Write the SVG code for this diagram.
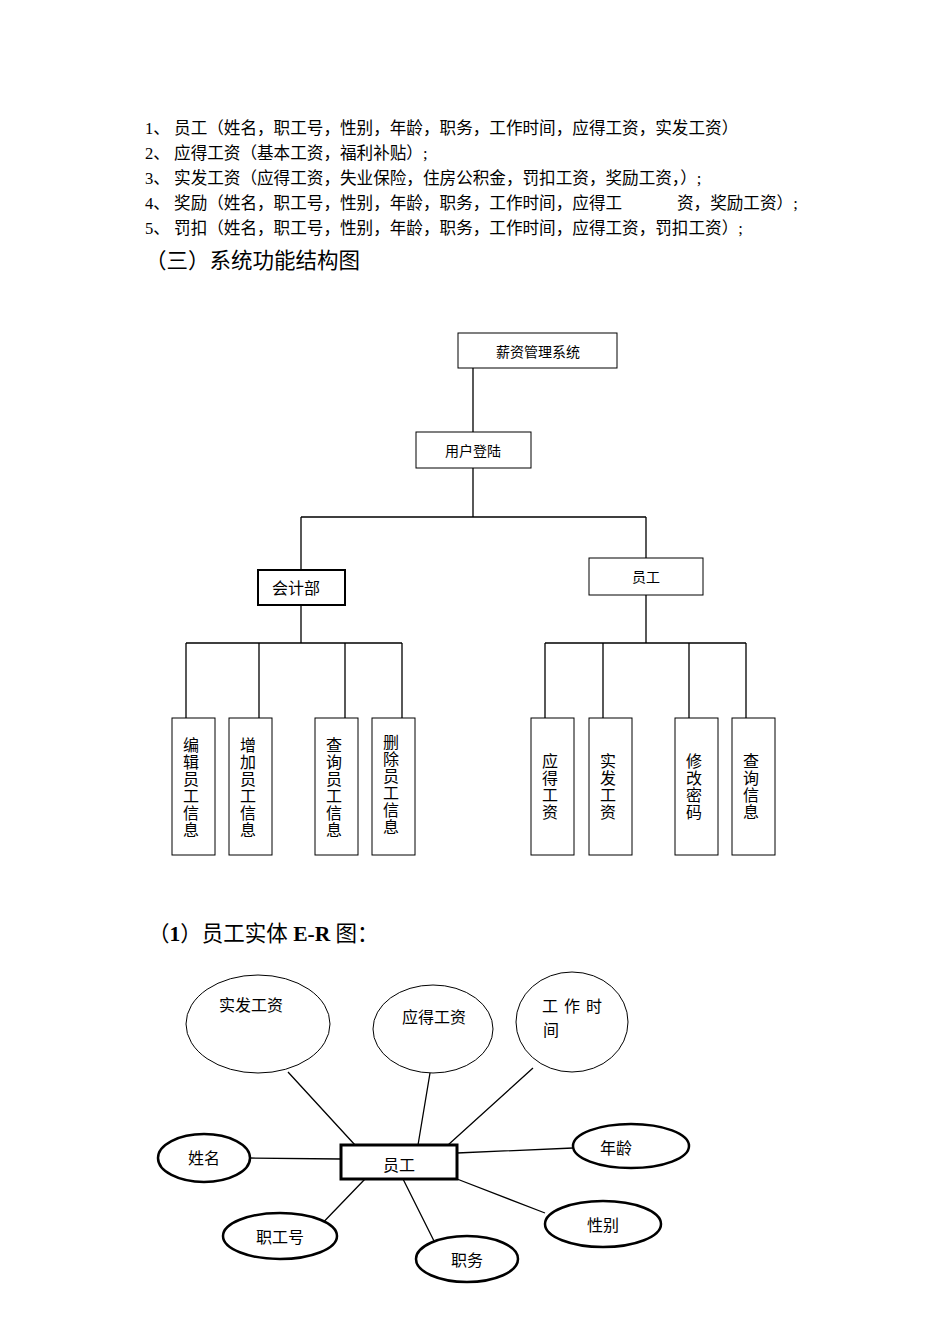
<svg xmlns="http://www.w3.org/2000/svg" width="950" height="1344" viewBox="0 0 950 1344">
<style>
text{font-family:"Liberation Serif","Noto Sans CJK SC",serif;fill:#000}
.t{font-size:16.6px}
.h{font-size:21.5px}
.b{fill:#fff;stroke:#000;stroke-width:1}
.bk{fill:#fff;stroke:#000;stroke-width:2}
.e{fill:#fff;stroke:#000;stroke-width:1}
.ek{fill:#fff;stroke:#000;stroke-width:2.5}
.l{stroke:#000;stroke-width:1.3;fill:none}
.n{font-size:14px;text-anchor:middle}
.v{font-size:16px;text-anchor:middle}
</style>
<rect width="950" height="1344" fill="#fff"/>
<text class="t" x="145" y="134">1、 员工（姓名，职工号，性别，年龄，职务，工作时间，应得工资，实发工资）</text>
<text class="t" x="145" y="159">2、 应得工资（基本工资，福利补贴）;</text>
<text class="t" x="145" y="184">3、 实发工资（应得工资，失业保险，住房公积金，罚扣工资，奖励工资，）;</text>
<text class="t" x="145" y="209">4、 奖励（姓名，职工号，性别，年龄，职务，工作时间，应得工<tspan x="677">资，奖励工资）;</tspan></text>
<text class="t" x="145" y="234">5、 罚扣（姓名，职工号，性别，年龄，职务，工作时间，应得工资，罚扣工资）;</text>
<text class="h" x="145" y="268">（三）系统功能结构图</text>
<g id="connectors">
<path class="l" d="M473 368V432M473 468V517M301 517H646M301 517V570M646 517V558M301 605V643M186 643H402M186 643V718M259 643V718M345 643V718M402 643V718M646 595V643M545 643H746M545 643V718M603 643V718M689 643V718M746 643V718"/>
<path class="l" d="M288 1072L355 1145M430 1073L418 1145M533 1068L448 1145M250 1158L341 1159M573 1148L457 1153M313 1233L365 1179M441 1255L403 1179M545 1213L457 1179"/>
</g>
<g id="n-root"><rect class="b" x="458" y="333" width="159" height="35"/><text class="n" x="538" y="357">薪资管理系统</text></g>
<g id="n-login"><rect class="b" x="416" y="432" width="115" height="36"/><text class="n" x="473" y="456">用户登陆</text></g>
<g id="n-acc"><rect class="bk" x="258" y="570" width="87" height="35"/><text class="v" x="296" y="594">会计部</text></g>
<g id="n-emp"><rect class="b" x="589" y="558" width="114" height="37"/><text class="n" x="646" y="582">员工</text></g>
<g id="n-a1"><rect class="b" x="172" y="718" width="43" height="137"/><text class="v"><tspan x="191" y="751">编</tspan><tspan x="191" y="768">辑</tspan><tspan x="191" y="785">员</tspan><tspan x="191" y="802">工</tspan><tspan x="191" y="819">信</tspan><tspan x="191" y="836">息</tspan></text></g>
<g id="n-a2"><rect class="b" x="229" y="718" width="43" height="137"/><text class="v"><tspan x="248" y="751">增</tspan><tspan x="248" y="768">加</tspan><tspan x="248" y="785">员</tspan><tspan x="248" y="802">工</tspan><tspan x="248" y="819">信</tspan><tspan x="248" y="836">息</tspan></text></g>
<g id="n-a3"><rect class="b" x="315" y="718" width="43" height="137"/><text class="v"><tspan x="334" y="751">查</tspan><tspan x="334" y="768">询</tspan><tspan x="334" y="785">员</tspan><tspan x="334" y="802">工</tspan><tspan x="334" y="819">信</tspan><tspan x="334" y="836">息</tspan></text></g>
<g id="n-a4"><rect class="b" x="372" y="718" width="43" height="137"/><text class="v"><tspan x="391" y="748">删</tspan><tspan x="391" y="765">除</tspan><tspan x="391" y="782">员</tspan><tspan x="391" y="799">工</tspan><tspan x="391" y="816">信</tspan><tspan x="391" y="833">息</tspan></text></g>
<g id="n-b1"><rect class="b" x="531" y="718" width="43" height="137"/><text class="v"><tspan x="550" y="767">应</tspan><tspan x="550" y="784">得</tspan><tspan x="550" y="801">工</tspan><tspan x="550" y="818">资</tspan></text></g>
<g id="n-b2"><rect class="b" x="589" y="718" width="43" height="137"/><text class="v"><tspan x="608" y="767">实</tspan><tspan x="608" y="784">发</tspan><tspan x="608" y="801">工</tspan><tspan x="608" y="818">资</tspan></text></g>
<g id="n-b3"><rect class="b" x="675" y="718" width="43" height="137"/><text class="v"><tspan x="694" y="767">修</tspan><tspan x="694" y="784">改</tspan><tspan x="694" y="801">密</tspan><tspan x="694" y="818">码</tspan></text></g>
<g id="n-b4"><rect class="b" x="732" y="718" width="43" height="137"/><text class="v"><tspan x="751" y="767">查</tspan><tspan x="751" y="784">询</tspan><tspan x="751" y="801">信</tspan><tspan x="751" y="818">息</tspan></text></g>
<text class="h" x="148" y="941">（<tspan font-weight="bold">1</tspan>）员工实体 <tspan font-weight="bold">E-R</tspan> 图：</text>
<g id="er-sf"><ellipse class="e" cx="258" cy="1024" rx="72" ry="49"/><text class="v" x="251" y="1011">实发工资</text></g>
<g id="er-yd"><ellipse class="e" cx="433" cy="1029" rx="60" ry="44"/><text class="v" x="434" y="1023">应得工资</text></g>
<g id="er-gz"><ellipse class="e" cx="572" cy="1022" rx="56" ry="50"/><text class="v" x="575" y="1012" letter-spacing="6">工作时</text><text class="v" x="551" y="1036">间</text></g>
<g id="er-emp"><rect x="341" y="1145" width="116" height="34" fill="#fff" stroke="#000" stroke-width="3"/><text class="v" x="399" y="1171">员工</text></g>
<g id="er-xm"><ellipse class="ek" cx="204" cy="1158" rx="46" ry="24"/><text class="v" x="204" y="1164">姓名</text></g>
<g id="er-nl"><ellipse class="ek" cx="631" cy="1146" rx="58" ry="22"/><text class="v" x="616" y="1154">年龄</text></g>
<g id="er-gh"><ellipse class="ek" cx="280" cy="1236" rx="57" ry="23"/><text class="v" x="280" y="1243">职工号</text></g>
<g id="er-zw"><ellipse class="ek" cx="467" cy="1259" rx="51" ry="23"/><text class="v" x="467" y="1266">职务</text></g>
<g id="er-xb"><ellipse class="ek" cx="603" cy="1224" rx="58" ry="23"/><text class="v" x="603" y="1231">性别</text></g>
</svg>
